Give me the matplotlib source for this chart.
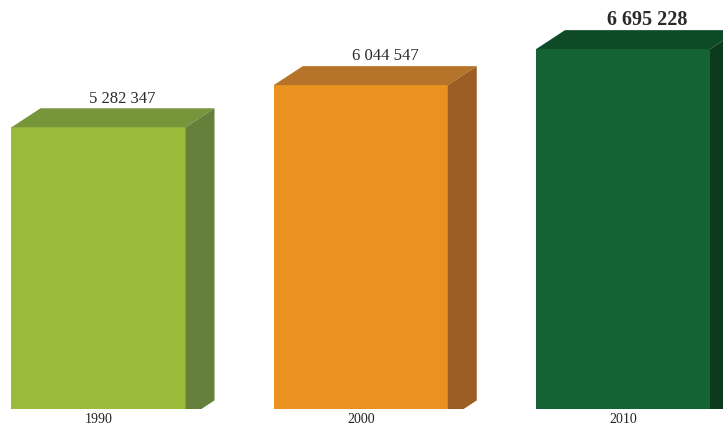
import matplotlib.pyplot as plt

years = ["1990", "2000", "2010"]
population = [5282347, 6044547, 6695228]
labels = ["5 282 347", "6 044 547", "6 695 228"]

front_colors = ["#9bbb3b", "#e9921f", "#136334"]
top_colors = ["#77953a", "#b5742a", "#0f4a27"]
side_colors = ["#64803a", "#9c5e25", "#0b3a1e"]

plt.rcParams['font.family'] = ['Liberation Serif', 'DejaVu Serif']

fig = plt.figure(figsize=(7.23, 4.25), dpi=100)
ax = fig.add_axes([0, 16 / 425, 1, 409 / 425])

x = list(range(len(years)))
w = 0.6635      # bar width in category units
dx = 0.1106     # 3d depth, horizontal
dy = 0.3436e6   # 3d depth, vertical

ax.bar(x, population, width=w, color=front_colors, zorder=2)

for i, v in enumerate(population):
    l, r = x[i] - w / 2, x[i] + w / 2
    ax.fill([l, r, r + dx, l + dx], [v, v, v + dy, v + dy],
            color=top_colors[i], lw=0, zorder=2)
    ax.fill([r, r + dx, r + dx, r], [0, dy, v + dy, v],
            color=side_colors[i], lw=0, zorder=2)
    big = i == len(population) - 1
    ax.annotate(labels[i], (x[i] + dx / 2, v + dy), xytext=(7, 7),
                textcoords="offset points", ha="center", va="center",
                fontsize=14.5 if big else 12,
                fontweight="bold" if big else "normal", color="#2a2a2a")

ax.set_xlim(-0.3756, 2.3813)
ax.set_ylim(0.188e6, 7.584e6)

ax.set_xticks(x)
ax.set_xticklabels(years, fontsize=10, color="#222222")
ax.tick_params(axis="x", length=0, pad=3)
ax.set_yticks([])
for s in ax.spines.values():
    s.set_visible(False)

fig.savefig("out.png", dpi=100)
